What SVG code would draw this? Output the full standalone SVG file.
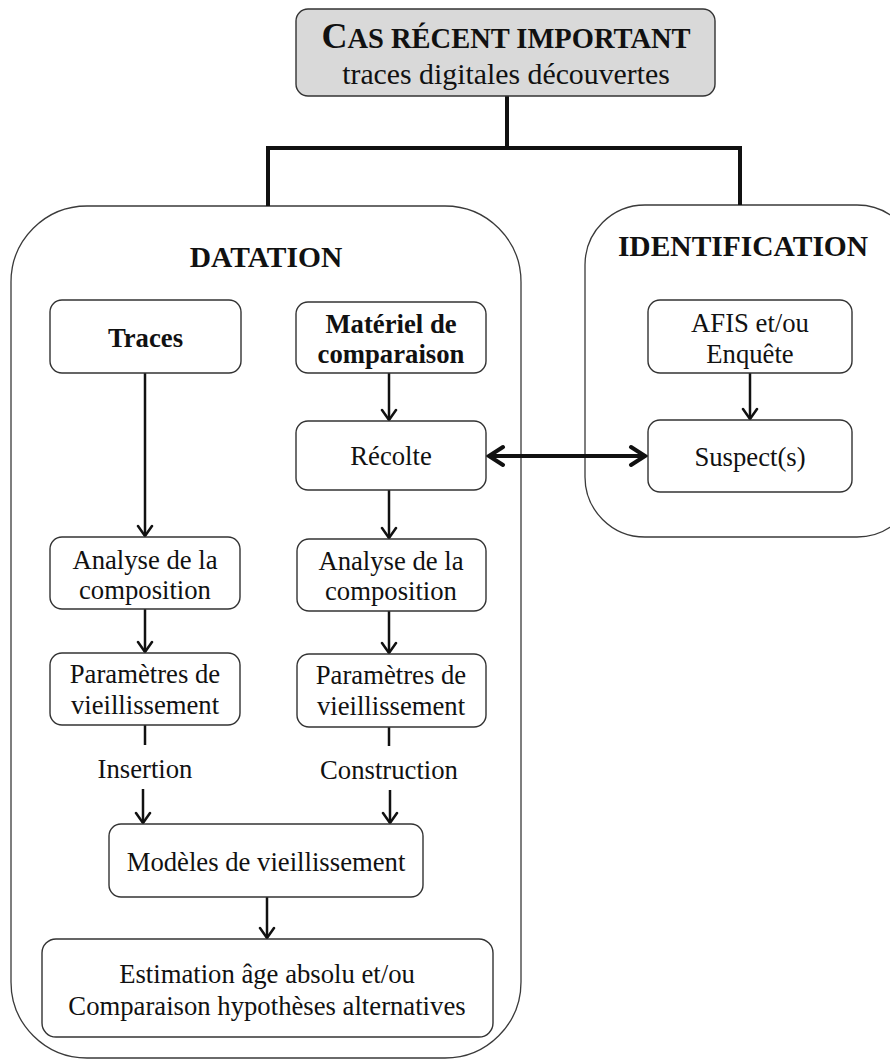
<svg xmlns="http://www.w3.org/2000/svg" width="890" height="1061" viewBox="0 0 890 1061">
  <defs>
    <style>
      .panel { fill: #ffffff; stroke: #3a3a3a; stroke-width: 1.3; }
      .box { fill: #ffffff; stroke: #333333; stroke-width: 1.4; }
      .head { fill: #d9d9d9; stroke: #333333; stroke-width: 1.4; }
      .txt { font-family: "Liberation Serif", "Times New Roman", serif; font-size: 26.7px; fill: #111111; text-anchor: middle; }
      .bold { font-weight: bold; }
      .sub { font-size: 29.8px; }
      .title { font-family: "Liberation Serif", "Times New Roman", serif; font-size: 29.5px; font-weight: bold; fill: #111111; text-anchor: middle; }
      .trunk { stroke: #111111; stroke-width: 4; fill: none; }
      .flow { stroke: #111111; stroke-width: 2.5; fill: none; }
      .flow-arrow { stroke: #111111; stroke-width: 2.5; fill: none; marker-end: url(#chev); }
      .link { stroke: #111111; stroke-width: 4; fill: none; marker-start: url(#chevBig); marker-end: url(#chevBig); }
    </style>
    <marker id="chev" markerUnits="userSpaceOnUse" viewBox="-14 -10 16 20" refX="0" refY="0" markerWidth="16" markerHeight="20" orient="auto">
      <path d="M -10 -7 L 0 0 L -10 7" fill="none" stroke="#111111" stroke-width="2.5" stroke-linecap="round" stroke-linejoin="miter"/>
    </marker>
    <marker id="chevBig" markerUnits="userSpaceOnUse" viewBox="-18 -12 21 24" refX="0" refY="0" markerWidth="21" markerHeight="24" orient="auto-start-reverse">
      <path d="M -14 -9 L 0 0 L -14 9" fill="none" stroke="#111111" stroke-width="4" stroke-linecap="round" stroke-linejoin="miter"/>
    </marker>
  </defs>

  <!-- large containers -->
  <g id="datation">
    <rect class="panel" x="11" y="206" width="510" height="852" rx="76" ry="76"/>
    <text class="title" x="266" y="267">DATATION</text>
  </g>
  <g id="identification">
    <rect class="panel" x="585" y="205" width="332" height="332" rx="60" ry="60"/>
    <text class="title" x="743" y="256">IDENTIFICATION</text>
  </g>

  <!-- connectors -->
  <g id="connectors">
    <path class="trunk" d="M 507 96 V 148 M 266 148 H 742 M 268 146 V 206 M 740 146 V 205"/>
    <line class="flow-arrow" x1="145" y1="373" x2="145" y2="536"/>
    <line class="flow-arrow" x1="389" y1="373" x2="389" y2="420"/>
    <line class="flow-arrow" x1="389" y1="490" x2="389" y2="538"/>
    <line class="flow-arrow" x1="145" y1="609" x2="145" y2="652"/>
    <line class="flow-arrow" x1="389" y1="611" x2="389" y2="653"/>
    <line class="flow" x1="145" y1="725" x2="145" y2="745"/>
    <line class="flow" x1="389" y1="727" x2="389" y2="746"/>
    <line class="flow-arrow" x1="143" y1="789" x2="143" y2="823"/>
    <line class="flow-arrow" x1="390" y1="790" x2="390" y2="823"/>
    <line class="flow-arrow" x1="267" y1="897" x2="267" y2="938"/>
    <line class="flow-arrow" x1="750" y1="373" x2="750" y2="419"/>
    <line class="link" x1="489" y1="456" x2="645" y2="456"/>
  </g>

  <!-- header -->
  <g id="cas-recent">
    <rect class="head" x="296" y="9" width="419" height="87" rx="12" ry="12"/>
    <text class="txt bold" x="506" y="48"><tspan font-size="36">C</tspan><tspan font-size="28.5">AS RÉCENT IMPORTANT</tspan></text>
    <text class="txt sub" x="506" y="84">traces digitales découvertes</text>
  </g>

  <!-- datation column nodes -->
  <g id="traces">
    <rect class="box" x="50" y="300" width="191" height="73" rx="12" ry="12"/>
    <text class="txt bold" x="145.5" y="347">Traces</text>
  </g>
  <g id="materiel">
    <rect class="box" x="296" y="302" width="190" height="71" rx="12" ry="12"/>
    <text class="txt bold" x="391" y="333">Matériel de</text>
    <text class="txt bold" x="391" y="363">comparaison</text>
  </g>
  <g id="recolte">
    <rect class="box" x="296" y="421" width="190" height="69" rx="12" ry="12"/>
    <text class="txt" x="391" y="465">Récolte</text>
  </g>
  <g id="analyse-traces">
    <rect class="box" x="50" y="537" width="190" height="72" rx="12" ry="12"/>
    <text class="txt" x="145" y="569">Analyse de la</text>
    <text class="txt" x="145" y="599">composition</text>
  </g>
  <g id="analyse-comparaison">
    <rect class="box" x="297" y="539" width="189" height="72" rx="12" ry="12"/>
    <text class="txt" x="391" y="570">Analyse de la</text>
    <text class="txt" x="391" y="600">composition</text>
  </g>
  <g id="parametres-traces">
    <rect class="box" x="50" y="653" width="190" height="72" rx="12" ry="12"/>
    <text class="txt" x="145" y="683">Paramètres de</text>
    <text class="txt" x="145" y="714">vieillissement</text>
  </g>
  <g id="parametres-comparaison">
    <rect class="box" x="297" y="654" width="189" height="73" rx="12" ry="12"/>
    <text class="txt" x="391" y="684">Paramètres de</text>
    <text class="txt" x="391" y="715">vieillissement</text>
  </g>
  <g id="label-insertion">
    <text class="txt" x="145" y="778">Insertion</text>
  </g>
  <g id="label-construction">
    <text class="txt" x="389" y="779">Construction</text>
  </g>
  <g id="modeles">
    <rect class="box" x="109" y="824" width="314" height="73" rx="12" ry="12"/>
    <text class="txt" x="266" y="871">Modèles de vieillissement</text>
  </g>
  <g id="estimation">
    <rect class="box" x="42" y="939" width="451" height="98" rx="14" ry="14"/>
    <text class="txt" x="267" y="983">Estimation âge absolu et/ou</text>
    <text class="txt" x="267" y="1015">Comparaison hypothèses alternatives</text>
  </g>

  <!-- identification nodes -->
  <g id="afis">
    <rect class="box" x="648" y="300" width="204" height="73" rx="12" ry="12"/>
    <text class="txt" x="750" y="332">AFIS et/ou</text>
    <text class="txt" x="750" y="363">Enquête</text>
  </g>
  <g id="suspects">
    <rect class="box" x="648" y="420" width="204" height="72" rx="12" ry="12"/>
    <text class="txt" x="750" y="466">Suspect(s)</text>
  </g>
</svg>
